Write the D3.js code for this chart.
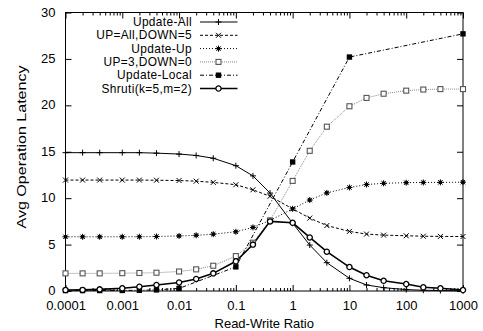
<!DOCTYPE html>
<html><head><meta charset="utf-8">
<script src="https://cdn.jsdelivr.net/npm/d3@7"></script>
<style>
html,body{margin:0;padding:0;background:#fff;}
svg{display:block;font-family:"Liberation Sans",Arial,Helvetica,sans-serif;}
</style></head>
<body>
<svg id="chart" width="483" height="331"></svg>
<script>
// ---- data ----
const ratios = [0.0001,0.0002,0.0004,0.001,0.002,0.004,0.01,0.02,0.04,0.1,0.2,0.4,1,2,4,10,20,40,100,200,400,1000];
const updateAll  = [14.9,14.9,14.9,14.9,14.9,14.85,14.75,14.6,14.3,13.5,12.4,10.55,7.3,4.95,3.05,1.37,0.65,0.36,0.15,0.08,0.05,0.02];
const upAllDown5 = [11.95,11.95,11.95,11.95,11.95,11.93,11.9,11.83,11.7,11.45,10.9,10.2,8.85,7.85,7.05,6.42,6.13,6.02,5.95,5.9,5.88,5.87];
const updateUp   = [5.84,5.84,5.84,5.84,5.85,5.87,5.93,6.0,6.12,6.38,6.85,7.6,8.85,9.8,10.57,11.15,11.47,11.6,11.67,11.69,11.7,11.72];
const up3Down0   = [1.9,1.9,1.9,1.92,1.94,1.97,2.1,2.33,2.72,3.76,5.2,7.6,11.86,15.1,17.7,19.9,20.8,21.25,21.58,21.7,21.75,21.75];
const localRatios = [0.0001,0.0002,0.0004,0.001,0.002,0.004,0.01,0.1,1,10,1000];
const updateLocal = [0.05,0.05,0.05,0.06,0.08,0.12,0.28,2.6,13.9,25.2,27.7];
const shruti     = [0.1,0.12,0.18,0.29,0.46,0.65,0.92,1.3,1.9,3.2,5.0,7.5,7.35,5.77,4.23,2.58,1.7,1.1,0.75,0.4,0.29,0.1];
const seriesNames = ["Update-All","UP=All,DOWN=5","Update-Up","UP=3,DOWN=0","Update-Local","Shruti(k=5,m=2)"];
const xTickValues = [0.0001,0.001,0.01,0.1,1,10,100,1000];
const xTickLabels = ["0.0001","0.001","0.01","0.1","1","10","100","1000"];
const yTickValues = [0,5,10,15,20,25,30];
const xTitle = "Read-Write Ratio";
const yTitle = "Avg Operation Latency";

// ---- layout ----
const L = 65.5, R = 463, T = 12.5, B = 291;
const svg = d3.select("#chart");
const x = d3.scaleLog().domain([0.0001, 1000]).range([L, R]);
const y = d3.scaleLinear().domain([0, 30]).range([B, T]);
const FS = 13;

const minorVals = [];
for (let e = -4; e < 3; e++) for (let m = 2; m <= 9; m++) minorVals.push(m * Math.pow(10, e));

const gx = svg.append("g").attr("transform", `translate(0,${B})`)
  .call(d3.axisBottom(x).tickValues(xTickValues).tickFormat((d,i)=>xTickLabels[i]).tickSize(-6).tickPadding(10));
const gxm = svg.append("g").attr("transform", `translate(0,${B})`)
  .call(d3.axisBottom(x).tickValues(minorVals).tickFormat("").tickSize(-3));
const gxt = svg.append("g").attr("transform", `translate(0,${T})`)
  .call(d3.axisTop(x).tickValues(xTickValues).tickFormat("").tickSize(-6));
const gxtm = svg.append("g").attr("transform", `translate(0,${T})`)
  .call(d3.axisTop(x).tickValues(minorVals).tickFormat("").tickSize(-3));
const gy = svg.append("g").attr("transform", `translate(${L},0)`)
  .call(d3.axisLeft(y).tickValues(yTickValues).tickSize(-6).tickPadding(10));
const gyr = svg.append("g").attr("transform", `translate(${R},0)`)
  .call(d3.axisRight(y).tickValues(yTickValues).tickFormat("").tickSize(-6));

[gx,gxm,gxt,gxtm,gy,gyr].forEach(g=>{
  g.select(".domain").remove();
  g.selectAll(".tick line").attr("stroke","#000").attr("stroke-width",1);
  g.selectAll("text").attr("font-size",FS).attr("fill","#000").attr("font-family","Liberation Sans, Arial, sans-serif");
});
gy.selectAll("text").attr("dy","0.28em");

svg.append("rect").attr("x",L).attr("y",T).attr("width",R-L).attr("height",B-T)
  .attr("fill","none").attr("stroke","#000").attr("stroke-width",1);

svg.append("text").attr("x",(L+R)/2).attr("y",327.5).attr("text-anchor","middle")
  .attr("font-size",FS).text(xTitle);
svg.append("text").attr("transform","translate(25.5,147) rotate(-90)").attr("text-anchor","middle")
  .attr("font-size",FS).attr("textLength",163).attr("lengthAdjust","spacingAndGlyphs").text(yTitle);

function marker(g, type, cx, cy){
  const s = g.append("g").attr("transform",`translate(${cx},${cy})`);
  if(type==="plus"){
    s.append("path").attr("d","M-3,0H3M0,-3V3").attr("stroke","#000").attr("stroke-width",1);
  } else if(type==="cross"){
    s.append("path").attr("d","M-2.5,-2.5L2.5,2.5M-2.5,2.5L2.5,-2.5").attr("stroke","#000").attr("stroke-width",1);
  } else if(type==="star"){
    s.append("path").attr("d","M-3,0H3M0,-3V3M-2.2,-2.2L2.2,2.2M-2.2,2.2L2.2,-2.2").attr("stroke","#000").attr("stroke-width",1);
    s.append("rect").attr("x",-1.6).attr("y",-1.6).attr("width",3.2).attr("height",3.2).attr("fill","#000");
  } else if(type==="osquare"){
    s.append("rect").attr("x",-2.5).attr("y",-2.5).attr("width",5).attr("height",5)
      .attr("fill","#fff").attr("stroke","#555").attr("stroke-width",1.1);
  } else if(type==="fsquare"){
    s.append("rect").attr("x",-2.7).attr("y",-2.7).attr("width",5.4).attr("height",5.4).attr("fill","#000");
  } else if(type==="circle"){
    s.append("circle").attr("r",2.6).attr("fill","#fff").attr("stroke","#000").attr("stroke-width",1.3);
  }
}

const series = [
  {name:seriesNames[0], xs:ratios, ys:updateAll,  stroke:"#000", dash:null,      width:1,   mk:"plus"},
  {name:seriesNames[1], xs:ratios, ys:upAllDown5, stroke:"#000", dash:"3,2",     width:1,   mk:"cross"},
  {name:seriesNames[2], xs:ratios, ys:updateUp,   stroke:"#000", dash:"1,2",     width:1,   mk:"star"},
  {name:seriesNames[3], xs:ratios, ys:up3Down0,   stroke:"#888", dash:"1,1",     width:1,   mk:"osquare"},
  {name:seriesNames[4], xs:localRatios, ys:updateLocal, stroke:"#000", dash:"4,2,1,2", width:1, mk:"fsquare"},
  {name:seriesNames[5], xs:ratios, ys:shruti,     stroke:"#000", dash:null,      width:1.6, mk:"circle"}
];

const line = d3.line().x(d=>x(d[0])).y(d=>y(d[1]));
const plot = svg.append("g");
series.forEach(s=>{
  const pts = s.xs.map((v,i)=>[v,s.ys[i]]);
  plot.append("path").datum(pts).attr("d",line).attr("fill","none")
    .attr("stroke",s.stroke).attr("stroke-width",s.width)
    .attr("stroke-dasharray",s.dash);
});
series.forEach(s=>{
  const g = plot.append("g");
  s.xs.forEach((v,i)=>marker(g,s.mk,x(v),y(s.ys[i])));
});

// legend
const LFS = 11.9;
const lg = svg.append("g");
series.forEach((s,i)=>{
  const ly = 22 + i*13.3;
  lg.append("text").attr("x",192).attr("y",ly).attr("dy","0.35em").attr("text-anchor","end")
    .attr("font-size",LFS).attr("letter-spacing",0.35).text(s.name);
  lg.append("line").attr("x1",200).attr("x2",237.5).attr("y1",ly).attr("y2",ly)
    .attr("stroke",s.stroke).attr("stroke-width",s.width).attr("stroke-dasharray",s.dash);
  marker(lg,s.mk,218.5,ly);
});
</script>
</body></html>
